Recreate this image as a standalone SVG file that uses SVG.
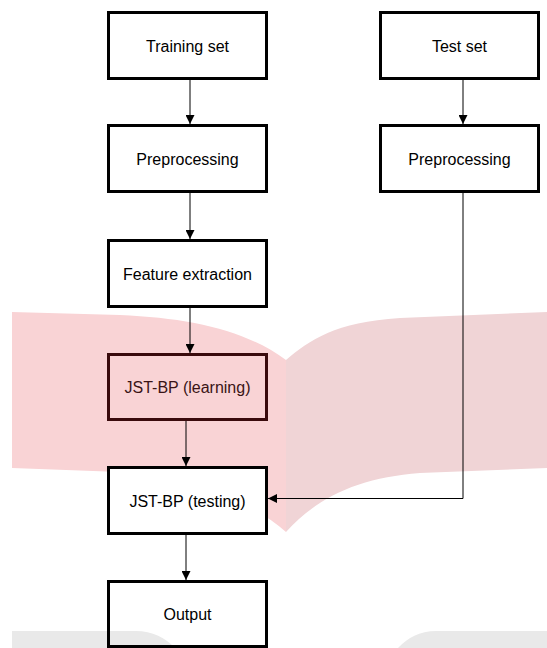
<svg xmlns="http://www.w3.org/2000/svg" width="547" height="648" viewBox="0 0 547 648">
<style>
.box{fill:#ffffff;stroke:#000000;stroke-width:3}
.lbl{font-family:"Liberation Sans",Arial,sans-serif;font-size:16px;fill:#000000;text-anchor:middle}
.conn{fill:none;stroke:#000000;stroke-width:1}
</style>
<defs>
<marker id="arr" markerUnits="userSpaceOnUse" markerWidth="9" markerHeight="9" refX="9" refY="4.5" orient="auto">
<path d="M0,0 L9,4.5 L0,9 Z" fill="#000000"/>
</marker>
</defs>
<g id="background">
<path d="M12,312 L120,315 C190,318 245,330 286,360 L286,532 C250,500 190,475 120,472 L12,468 Z" fill="#f9d3d5"/>
<path d="M286,360 C310,340 335,322 400,318 L547,312 L547,468 L420,473 C360,478 320,495 286,532 Z" fill="#f0d4d6"/>
<path d="M12,648 L12,631 L136,631 C152,631 166,638 175,648 Z" fill="#e9e9e9"/>
<path d="M398,648 C407,638 420,631 436,631 L547,631 L547,648 Z" fill="#e9e9e9"/>
</g>
<g id="connectors">
<line class="conn" x1="190" y1="80" x2="190" y2="124" marker-end="url(#arr)"/>
<line class="conn" x1="190" y1="193" x2="190" y2="239" marker-end="url(#arr)"/>
<line class="conn" x1="190" y1="308" x2="190" y2="353" marker-end="url(#arr)"/>
<line class="conn" x1="186" y1="421" x2="186" y2="466" marker-end="url(#arr)"/>
<line class="conn" x1="186" y1="535" x2="186" y2="580" marker-end="url(#arr)"/>
<line class="conn" x1="463" y1="80" x2="463" y2="124" marker-end="url(#arr)"/>
<polyline class="conn" points="463,193 463,498.5 268,498.5" marker-end="url(#arr)"/>
</g>
<g id="training-set">
<rect class="box" x="108.5" y="12.5" width="158" height="66"/>
<text class="lbl" x="187.5" y="51.5">Training set</text>
</g>
<g id="preprocessing-train">
<rect class="box" x="108.5" y="125.5" width="158" height="66"/>
<text class="lbl" x="187.5" y="164.5">Preprocessing</text>
</g>
<g id="feature-extraction">
<rect class="box" x="108.5" y="240.5" width="158" height="66"/>
<text class="lbl" x="187.5" y="279.5">Feature extraction</text>
</g>
<g id="learning">
<rect class="box" x="108.5" y="354.5" width="158" height="65" style="fill:none;stroke:#3a0a0c"/>
<text class="lbl" x="187.5" y="393" style="fill:#3a1416">JST-BP (learning)</text>
</g>
<g id="testing">
<rect class="box" x="108.5" y="467.5" width="158" height="66"/>
<text class="lbl" x="187.5" y="506.5">JST-BP (testing)</text>
</g>
<g id="output">
<rect class="box" x="108.5" y="581.5" width="158" height="65" style="fill:none"/>
<text class="lbl" x="187.5" y="620">Output</text>
</g>
<g id="test-set">
<rect class="box" x="380.5" y="12.5" width="158" height="66"/>
<text class="lbl" x="459.5" y="51.5">Test set</text>
</g>
<g id="preprocessing-test">
<rect class="box" x="380.5" y="125.5" width="158" height="66"/>
<text class="lbl" x="459.5" y="164.5">Preprocessing</text>
</g>
</svg>
